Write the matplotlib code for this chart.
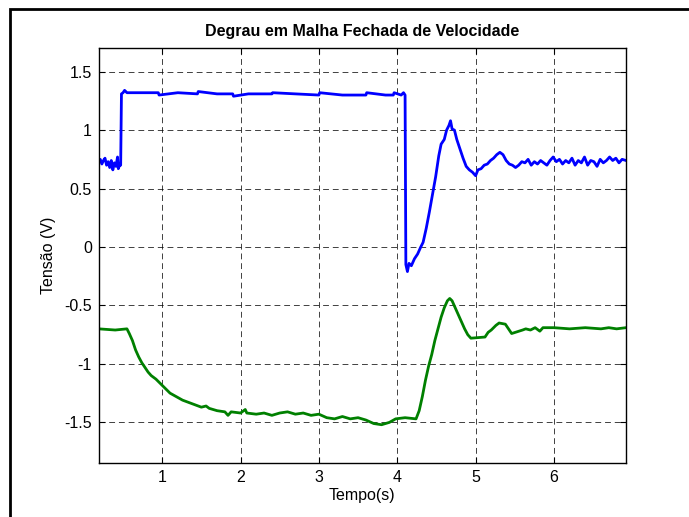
import matplotlib
matplotlib.use("Agg")
import matplotlib.pyplot as plt
from matplotlib.patches import Rectangle

plt.rcParams['font.family'] = ['Liberation Sans', 'DejaVu Sans']

title = "Degrau em Malha Fechada de Velocidade"
xlabel = "Tempo(s)"
ylabel = "Tensão (V)"

# velocity reference / response (blue)
t_blue = [0.19, 0.21, 0.23, 0.25, 0.27, 0.29, 0.31, 0.33, 0.35, 0.37, 0.39,
          0.41, 0.43, 0.44, 0.46, 0.47, 0.48, 0.50, 0.52, 0.55, 0.70, 0.95,
          0.96, 1.20, 1.45, 1.46, 1.70, 1.90, 1.91, 2.10, 2.40, 2.41, 2.70,
          3.00, 3.01, 3.30, 3.60, 3.61, 3.85, 3.95, 3.96, 4.05,
          4.08, 4.10, 4.11, 4.13, 4.15, 4.18, 4.22, 4.26, 4.30, 4.33, 4.37,
          4.41, 4.45, 4.49, 4.53, 4.56, 4.60, 4.63, 4.66, 4.68, 4.70, 4.73,
          4.76, 4.80, 4.84, 4.88, 4.92, 4.96, 5.00, 5.03, 5.07, 5.11, 5.15,
          5.19, 5.23, 5.27, 5.31, 5.35, 5.39, 5.43, 5.47, 5.51, 5.55, 5.59,
          5.63, 5.67, 5.71, 5.75, 5.79, 5.83, 5.87, 5.91, 5.95, 5.99, 6.03,
          6.07, 6.11, 6.15, 6.19, 6.23, 6.27, 6.31, 6.35, 6.39, 6.43, 6.47,
          6.51, 6.55, 6.59, 6.63, 6.67, 6.71, 6.75, 6.79, 6.83, 6.87, 6.92]
v_blue = [0.72, 0.75, 0.71, 0.74, 0.76, 0.70, 0.73, 0.68, 0.74, 0.66, 0.72,
          0.69, 0.77, 0.67, 0.71, 0.70, 1.31, 1.32, 1.34, 1.32, 1.32, 1.32,
          1.30, 1.32, 1.31, 1.33, 1.31, 1.31, 1.29, 1.31, 1.31, 1.32, 1.31,
          1.30, 1.32, 1.30, 1.30, 1.32, 1.30, 1.30, 1.32, 1.30,
          1.32, 1.30, -0.15, -0.21, -0.14, -0.16, -0.10, -0.06, 0.00, 0.04, 0.16,
          0.30, 0.45, 0.60, 0.78, 0.88, 0.92, 1.00, 1.04, 1.08, 1.01, 1.00,
          0.92, 0.84, 0.76, 0.69, 0.66, 0.64, 0.61, 0.66, 0.67, 0.70, 0.71,
          0.74, 0.76, 0.79, 0.81, 0.79, 0.74, 0.71, 0.70, 0.68, 0.70, 0.73,
          0.72, 0.75, 0.70, 0.73, 0.71, 0.74, 0.72, 0.70, 0.74, 0.77, 0.73,
          0.75, 0.71, 0.74, 0.72, 0.76, 0.70, 0.74, 0.72, 0.77, 0.70, 0.74,
          0.73, 0.69, 0.75, 0.72, 0.74, 0.77, 0.74, 0.76, 0.72, 0.75, 0.74]

# control signal (green)
t_green = [0.19, 0.40, 0.55, 0.58, 0.62, 0.66, 0.70, 0.74, 0.78, 0.82, 0.86,
           0.92, 0.98, 1.04, 1.10, 1.18, 1.26, 1.34, 1.42, 1.50, 1.56, 1.60,
           1.70, 1.80, 1.84, 1.88, 2.00, 2.06, 2.08, 2.20, 2.30, 2.40, 2.50,
           2.60, 2.70, 2.80, 2.90, 3.00, 3.10, 3.20, 3.30, 3.40, 3.50, 3.60,
           3.70, 3.80, 3.90, 3.98, 4.10, 4.24, 4.28, 4.32, 4.36, 4.40, 4.44,
           4.48, 4.52, 4.56, 4.60, 4.64, 4.67, 4.70, 4.74, 4.78, 4.82, 4.86,
           4.90, 4.94, 5.12, 5.16, 5.20, 5.26, 5.30, 5.38, 5.42, 5.46, 5.60,
           5.64, 5.70, 5.76, 5.82, 5.86, 6.00, 6.20, 6.40, 6.60, 6.70, 6.80,
           6.92]
v_green = [-0.70, -0.71, -0.70, -0.74, -0.80, -0.88, -0.94, -0.99, -1.03, -1.07, -1.10,
           -1.13, -1.17, -1.21, -1.25, -1.28, -1.31, -1.33, -1.35, -1.37, -1.36, -1.38,
           -1.40, -1.41, -1.44, -1.41, -1.42, -1.39, -1.42, -1.43, -1.42, -1.44, -1.42,
           -1.41, -1.43, -1.42, -1.44, -1.43, -1.46, -1.47, -1.45, -1.47, -1.46, -1.48,
           -1.51, -1.52, -1.50, -1.47, -1.46, -1.47, -1.40, -1.28, -1.14, -1.02, -0.92,
           -0.80, -0.70, -0.60, -0.52, -0.46, -0.44, -0.46, -0.52, -0.58, -0.64, -0.70,
           -0.75, -0.78, -0.77, -0.73, -0.71, -0.67, -0.65, -0.66, -0.70, -0.74, -0.71,
           -0.70, -0.71, -0.69, -0.72, -0.69, -0.69, -0.70, -0.69, -0.70, -0.69, -0.70,
           -0.69]

xticks = [1, 2, 3, 4, 5, 6]
yticks = [-1.5, -1, -0.5, 0, 0.5, 1, 1.5]
yticklabels = ["-1.5", "-1", "-0.5", "0", "0.5", "1", "1.5"]


def main():
    fig = plt.figure(figsize=(6.89, 5.17), dpi=100)
    ax = fig.add_axes([0.1433, 0.1039, 0.7653, 0.8027])

    ax.plot(t_blue, v_blue, color=(0, 0, 1), lw=2)
    ax.plot(t_green, v_green, color=(0, 0.5, 0), lw=2)

    ax.set_xlim(0.19, 6.92)
    ax.set_ylim(-1.85, 1.70)
    ax.set_xticks(xticks)
    ax.set_yticks(yticks)
    ax.set_yticklabels(yticklabels)
    ax.tick_params(direction='in', top=True, right=True, length=4,
                   labelsize=11.5, pad=5)
    ax.grid(True, color='k', linestyle=(0, (6, 4)), lw=0.7, alpha=0.75)
    for s in ax.spines.values():
        s.set_linewidth(1.0)

    ax.set_title(title, fontsize=11.5, fontweight='bold', pad=9)
    ax.set_xlabel(xlabel, fontsize=11.5, labelpad=2)
    ax.set_ylabel(ylabel, fontsize=11.5, labelpad=6)

    # outer frame around the figure
    fig.patches.append(Rectangle((10 / 689, -0.1), 1.2, 1.1 - 9 / 517,
                                 transform=fig.transFigure, fill=False,
                                 lw=2, ec='k', clip_on=False))

    plt.savefig("out.png", dpi=100)


if __name__ == '__main__':
    main()
